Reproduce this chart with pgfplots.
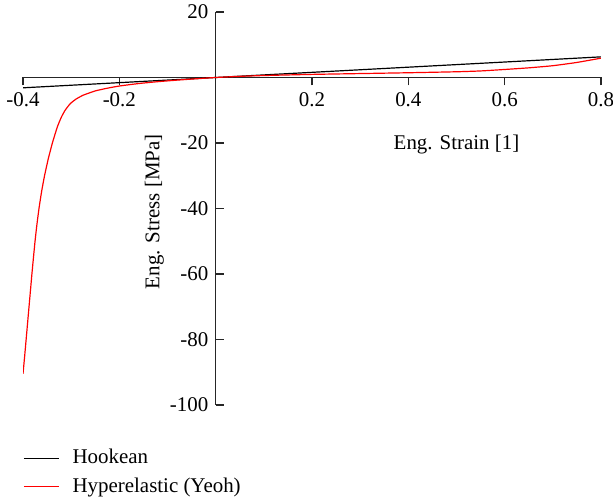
\documentclass[border=0pt]{standalone}
\usepackage{fontspec}
\setmainfont{Liberation Serif}
\usepackage{pgfplots}
\pgfplotsset{compat=1.18}

% Hookean: straight line through the origin
\pgfplotstableread{
x y
-0.4 -3.15
0.8 6.3
}\hookean

% Hyperelastic (Yeoh)
\pgfplotstableread{
x y
-0.4000 -90.5
-0.3965 -85.0
-0.3935 -80.0
-0.3905 -75.0
-0.3875 -70.0
-0.3845 -65.0
-0.3815 -60.0
-0.3783 -55.0
-0.3750 -50.0
-0.3712 -45.0
-0.3668 -40.0
-0.3616 -35.0
-0.3553 -30.0
-0.3478 -25.0
-0.3390 -20.0
-0.3285 -15.0
-0.3200 -12.0
-0.3125 -10.0
-0.3020 -8.0
-0.2900 -6.6
-0.2750 -5.4
-0.2500 -4.1
-0.2260 -3.3
-0.2000 -2.6
-0.1600 -1.85
-0.1220 -1.3
-0.0800 -0.8
-0.0400 -0.38
0.000 0.0
0.050 0.35
0.100 0.6
0.200 0.95
0.300 1.2
0.400 1.45
0.500 1.75
0.550 2.0
0.600 2.45
0.650 2.95
0.700 3.6
0.750 4.6
0.800 5.9
}\yeoh

\begin{document}
\fontsize{10.5}{12.6}\selectfont
\begin{tikzpicture}
\begin{axis}[
  scale only axis,
  width=289bp, height=196.5bp,
  axis lines=middle,
  axis line style={-, line width=0.6pt, black!85},
  xmin=-0.4, xmax=0.8, ymin=-100, ymax=20,
  xtick={-0.4,-0.2,0.2,0.4,0.6,0.8},
  xticklabels={-0.4,-0.2,0.2,0.4,0.6,0.8},
  ytick={20,-20,-40,-60,-80,-100},
  yticklabels={20,-20,-40,-60,-80,-100},
  xtick align=outside,
  ytick align=inside,
  major tick length=4bp,
  tick style={line width=0.6pt, black!85},
  tick label style={font=\fontsize{10.5}{12.6}\selectfont},
  legend cell align=left,
  legend style={draw=none, fill=none, at={(rel axis cs:0,0)},
    anchor=north west, yshift=-20bp, inner sep=0pt,
    font=\fontsize{10.5}{12.6}\selectfont,
    row sep=1.5bp},
  legend image code/.code={\draw[#1] (0bp,0bp) -- (17.5bp,0bp);
    \path (22bp,0bp);},
]
\addplot[black, line width=0.6pt] table[x=x, y=y] {\hookean};
\addlegendentry{Hookean}
\addplot[red, line width=0.6pt, smooth, tension=0.3] table[x=x, y=y] {\yeoh};
\addlegendentry{Hyperelastic (Yeoh)}
\node at (axis cs:0.5,-20.5) {Eng. Strain [1]};
\node[rotate=90] at (axis cs:-0.127,-41) {Eng. Stress [MPa]};
\coordinate (bl) at (rel axis cs:0,0);
\end{axis}
\pgfresetboundingbox
\path (bl) ++(-11.5bp,-47.5bp) rectangle ++(306.5bp,250bp);
\end{tikzpicture}
\end{document}
